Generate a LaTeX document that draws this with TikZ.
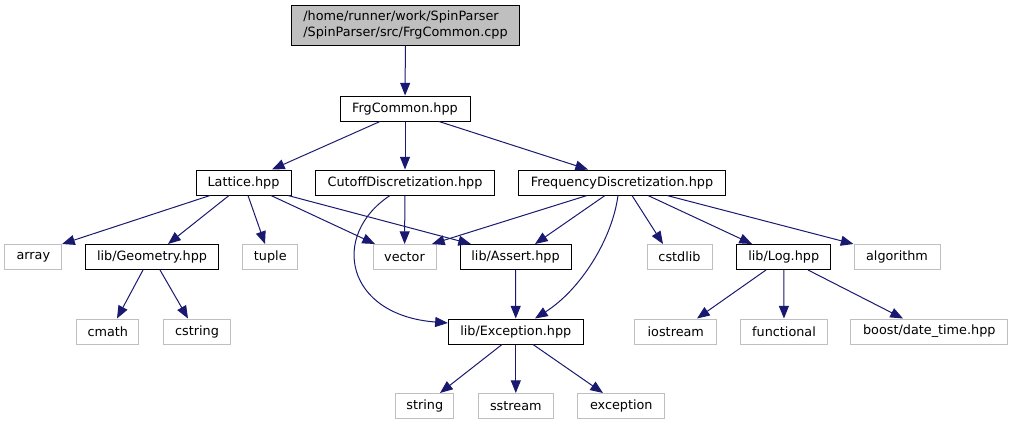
\documentclass[tikz,border=0pt]{standalone}
\usepackage{fontspec}
\setmainfont{DejaVu Sans}
\usetikzlibrary{arrows.meta}
\definecolor{incl}{HTML}{191970}
\definecolor{grey}{HTML}{BFBFBF}
\tikzset{
  box/.style  = {draw=black, line width=0.75pt, minimum width=#1,
                 minimum height=18.75pt, inner sep=0pt,
                 font=\fontsize{9.6}{11.5}\selectfont},
  file/.style = {box=#1},
  sys/.style  = {box=#1, draw=grey},
  src/.style  = {box=#1, fill=grey, align=left, minimum height=30pt},
  dep/.style  = {-{Triangle[length=9.5pt,width=7.5pt]}, draw=incl, line width=0.75pt},
}

\begin{document}
\begin{tikzpicture}[x=0.75pt, y=-0.75pt]
\useasboundingbox (0,0) rectangle (1013,425);

\node[src=170.7pt] (cpp) at (405.5,25) {/home/runner/work/SpinParser\\/SpinParser/src/FrgCommon.cpp};
\node[file=97.5pt] (frg) at (405,108.5) {FrgCommon.hpp};
\node[file=71.25pt] (lat) at (243.5,182.5) {Lattice.hpp};
\node[file=134.25pt] (cut) at (405,182.5) {CutoffDiscretization.hpp};
\node[file=155.6pt] (frq) at (622,182.5) {FrequencyDiscretization.hpp};
\node[sys=42.5pt] (arr) at (33.3,257) {array};
\node[file=100pt] (geo) at (152,257) {lib/Geometry.hpp};
\node[sys=41pt] (tup) at (270.3,257) {tuple};
\node[sys=47.25pt] (vec) at (404.5,257) {vector};
\node[file=83.25pt] (asr) at (515.5,257) {lib/Assert.hpp};
\node[sys=48.75pt] (cst) at (679.5,257) {cstdlib};
\node[file=70.5pt] (log) at (783.7,257) {lib/Log.hpp};
\node[sys=64.5pt] (alg) at (897,257) {algorithm};
\node[sys=46.7pt] (cma) at (107.8,331.5) {cmath};
\node[sys=50pt] (cstr) at (197,331.5) {cstring};
\node[file=101.25pt] (exc) at (515.8,331.5) {lib/Exception.hpp};
\node[sys=61.3pt] (ios) at (675.8,331.5) {iostream};
\node[sys=65pt] (fun) at (784,331.5) {functional};
\node[sys=117.5pt] (bst) at (929.3,331.5) {boost/date\_time.hpp};
\node[sys=43.7pt] (str) at (424.8,406) {string};
\node[sys=56.25pt] (sst) at (515.8,406) {sstream};
\node[sys=65.5pt] (xcp) at (621.3,406) {exception};

\draw[dep] (cpp) -- (frg);
\draw[dep] (frg.south -| 380,0) -- (lat.north -| 272,0);
\draw[dep] (frg) -- (cut);
\draw[dep] (frg.south -| 439,0) -- (frq.north -| 588,0);

\draw[dep] (lat.south -| 210,0) -- (arr.north east);
\draw[dep] (lat.south -| 229,0) -- (geo.north -| 168,0);
\draw[dep] (lat.south -| 248,0) -- (tup.north -| 265,0);
\draw[dep] (lat.south -| 271,0) -- (vec.north -| 375,0);
\draw[dep] (lat.south -| 288,0) -- (asr.north -| 471,0);

\draw[dep] (cut) -- (vec);
\draw[dep] (cut.south -| 390,0) .. controls (330,235) and (345,315) .. (exc.west |- 0,323);

\draw[dep] (frq.south -| 587,0) -- (vec.north -| 432,0);
\draw[dep] (frq.south -| 605,0) -- (asr.north -| 535,0);
\draw[dep] (frq.south -| 618,0) .. controls (612,240) and (580,290) .. (exc.north -| 535,0);
\draw[dep] (frq.south -| 632,0) -- (cst.north -| 663,0);
\draw[dep] (frq.south -| 648,0) -- (log.north -| 752,0);
\draw[dep] (frq.south -| 667,0) -- (alg.north west);

\draw[dep] (geo.south -| 143,0) -- (cma.north -| 117,0);
\draw[dep] (geo.south -| 160,0) -- (cstr.north -| 188,0);
\draw[dep] (asr) -- (exc);
\draw[dep] (log.south -| 766,0) -- (ios.north -| 697,0);
\draw[dep] (log) -- (fun);
\draw[dep] (log.south -| 808,0) -- (bst.north -| 903,0);

\draw[dep] (exc.south -| 502,0) -- (str.north -| 440,0);
\draw[dep] (exc) -- (sst);
\draw[dep] (exc.south -| 533,0) -- (xcp.north -| 603,0);

\end{tikzpicture}
\end{document}
